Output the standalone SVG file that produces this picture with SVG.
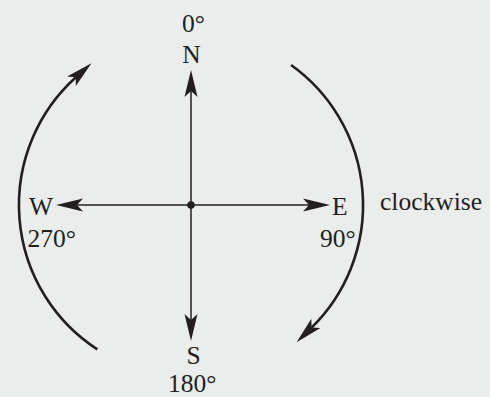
<svg xmlns="http://www.w3.org/2000/svg" width="490" height="397" viewBox="0 0 490 397">
  <style>
    text { font-family: "Liberation Serif", "Times New Roman", serif; font-size: 25.5px; fill: #231f20; }
    .axis { stroke: #231f20; stroke-width: 1.5; fill: none; }
    .arc { stroke: #231f20; stroke-width: 2.6; fill: none; }
  </style>
  <defs>
    <marker id="arrow" markerUnits="userSpaceOnUse" markerWidth="40" markerHeight="40" viewBox="-10 -10 40 20" refX="0" refY="0" orient="auto" overflow="visible">
      <path d="M21,0 L-6,-6.5 L0,0 L-6,6.5 Z" fill="#231f20"/>
    </marker>
  </defs>
  <rect width="490" height="397" fill="#ebecec"/>
  <g id="connectors">
    <line class="axis" x1="191" y1="205" x2="191" y2="91" marker-end="url(#arrow)"/>
    <line class="axis" x1="191" y1="205" x2="191" y2="320" marker-end="url(#arrow)"/>
    <line class="axis" x1="191" y1="205" x2="77" y2="205" marker-end="url(#arrow)"/>
    <line class="axis" x1="191" y1="205" x2="309" y2="205" marker-end="url(#arrow)"/>
    <path class="arc" d="M97.3,349.3 A172,172 0 0 1 75.9,77.2" marker-end="url(#arrow)"/>
    <path class="arc" d="M291.1,65 A172,172 0 0 1 311.6,327.6" marker-end="url(#arrow)"/>
  </g>
  <g id="center"><circle cx="191" cy="205" r="3.8" fill="#231f20"/></g>
  <g id="north">
    <text x="182" y="32">0°</text>
    <text x="191.5" y="63" text-anchor="middle">N</text>
  </g>
  <g id="west">
    <text x="29" y="215">W</text>
    <text x="27.5" y="247">270°</text>
  </g>
  <g id="east">
    <text x="332" y="215">E</text>
    <text x="320" y="247">90°</text>
  </g>
  <g id="south">
    <text x="193.5" y="364" text-anchor="middle">S</text>
    <text x="168" y="392">180°</text>
  </g>
  <g id="label"><text x="380" y="210">clockwise</text></g>
</svg>
